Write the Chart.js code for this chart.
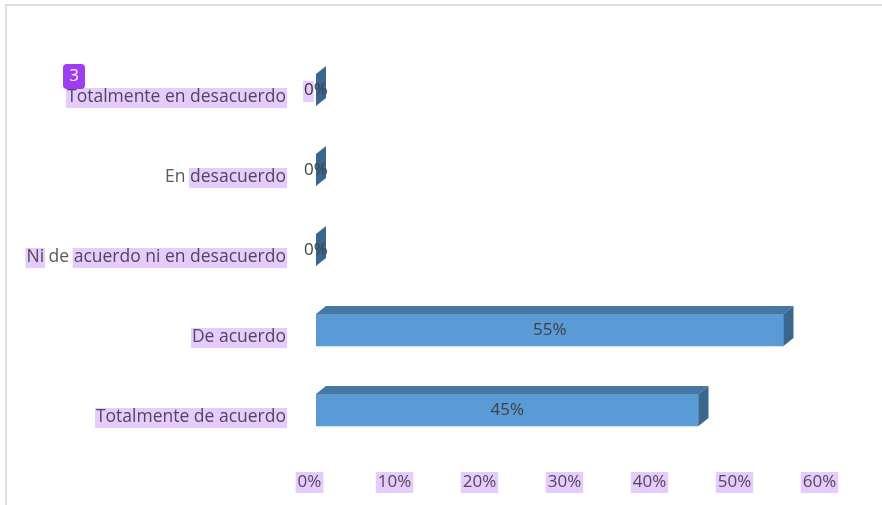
<!DOCTYPE html>
<html>
<head>
<meta charset="utf-8">
<script src="https://cdn.jsdelivr.net/npm/chart.js@4/dist/chart.umd.min.js"></script>
<style>
  html,body{margin:0;padding:0;background:#fff;width:882px;height:505px;overflow:hidden;}
  #frame{position:absolute;left:5px;top:4px;width:900px;height:520px;border-top:2px solid #dedede;border-left:2px solid #dedede;}
  #wrap{position:absolute;left:0;top:0;width:882px;height:505px;}
</style>
</head>
<body>
<div id="frame"></div>
<div id="wrap"><canvas id="c" width="882" height="505"></canvas></div>
<script>
const categories = ['Totalmente en desacuerdo', 'En desacuerdo', 'Ni de acuerdo ni en desacuerdo', 'De acuerdo', 'Totalmente de acuerdo'];
const values = [0, 0, 0, 55, 45];
const valueLabels = ['0%', '0%', '0%', '55%', '45%'];
const tickValues = [0, 10, 20, 30, 40, 50, 60];

const FONT = '"Open Sans"';
const TEXT = '#595959';
const HILITE = '#e6cbff';
// highlighted character ranges of each category label (reference shows text-selection marks)
const labelHighlights = [[[0, 24]], [[3, 13]], [[0, 2], [6, 30]], [[0, 10]], [[0, 21]]];

const bar3d = {
  id: 'bar3d',
  afterDatasetsDraw(chart) {
    const ctx = chart.ctx;
    const meta = chart.getDatasetMeta(0);
    const dx = 10, dy = 8;
    ctx.save();
    meta.data.forEach((el) => {
      const p = el.getProps(['x', 'y', 'base', 'height'], true);
      const x0 = p.base, x1 = p.x, top = p.y - p.height / 2, bot = p.y + p.height / 2;
      if (x1 - x0 > 0.5) {
        ctx.fillStyle = '#4676a4';
        ctx.beginPath();
        ctx.moveTo(x0, top); ctx.lineTo(x0 + dx, top - dy); ctx.lineTo(x1 + dx, top - dy); ctx.lineTo(x1, top);
        ctx.closePath(); ctx.fill();
      }
      ctx.fillStyle = '#3b668f';
      ctx.beginPath();
      ctx.moveTo(x1, top); ctx.lineTo(x1 + dx, top - dy); ctx.lineTo(x1 + dx, bot - dy); ctx.lineTo(x1, bot);
      ctx.closePath(); ctx.fill();
    });
    ctx.font = '17px ' + FONT;
    ctx.fillStyle = '#404040';
    ctx.textAlign = 'center';
    ctx.textBaseline = 'middle';
    meta.data.forEach((el, i) => {
      const p = el.getProps(['x', 'y', 'base', 'height'], true);
      if (values[i] > 0) {
        ctx.fillText(valueLabels[i], (p.base + p.x) / 2, p.y);
      } else {
        ctx.fillText(valueLabels[i], p.base, p.y);
      }
    });
    ctx.restore();
  },
  afterDraw(chart) {
    const ctx = chart.ctx;
    const ys = chart.scales.y, xs = chart.scales.x;
    ctx.save();
    ctx.globalCompositeOperation = 'multiply';
    ctx.fillStyle = HILITE;
    ctx.font = '17.5px ' + FONT;
    const right = ys.right - ys.options.ticks.padding;
    categories.forEach((lab, i) => {
      const cy = ys.getPixelForValue(i) + ys.options.ticks.labelOffset;
      const w = ctx.measureText(lab).width;
      const left = right - w;
      labelHighlights[i].forEach(([a, b]) => {
        const xa = left + ctx.measureText(lab.slice(0, a)).width;
        const xb = left + ctx.measureText(lab.slice(0, b)).width;
        ctx.fillRect(xa - 1, cy - 9, xb - xa + 2, 20);
      });
    });
    ctx.font = '17px ' + FONT;
    tickValues.forEach((v) => {
      const t = v + '%';
      const w = ctx.measureText(t).width;
      const cx = xs.getPixelForValue(v) + xs.options.ticks.labelOffset;
      ctx.fillRect(cx - w / 2 - 2, 472, w + 4, 21);
    });
    const p0 = chart.getDatasetMeta(0).data[0].getProps(['x', 'y', 'base'], true);
    const w0 = ctx.measureText('0%').width;
    ctx.fillRect(p0.base - w0 / 2 - 1, p0.y - 9, ctx.measureText('0').width + 1, 21);
    ctx.restore();
    ctx.save();
    ctx.fillStyle = '#9d3ef2';
    ctx.beginPath();
    ctx.roundRect(63, 64, 22, 25, 4);
    ctx.fill();
    ctx.fillStyle = '#ffffff';
    ctx.font = '17px ' + FONT;
    ctx.textAlign = 'center';
    ctx.textBaseline = 'middle';
    ctx.fillText('3', 74, 76);
    ctx.restore();
  }
};

new Chart(document.getElementById('c'), {
  type: 'bar',
  data: {
    labels: categories,
    datasets: [{
      data: values,
      backgroundColor: '#5b9bd5',
      borderWidth: 0,
      barThickness: 32
    }]
  },
  options: {
    indexAxis: 'y',
    responsive: false,
    animation: false,
    layout: { padding: { left: 0, top: 50, right: 56, bottom: 0 } },
    plugins: { legend: { display: false }, tooltip: { enabled: false } },
    scales: {
      x: {
        min: 0, max: 60,
        afterBuildTicks(scale) { scale.ticks = tickValues.map(v => ({ value: v })); },
        afterFit(scale) { scale.height = 55; },
        grid: { display: false, drawTicks: false },
        border: { display: false },
        ticks: {
          padding: 22,
          labelOffset: -6.5,
          color: TEXT,
          font: { family: FONT, size: 17 },
          callback: (v) => v + '%'
        }
      },
      y: {
        afterFit(scale) { scale.width = 316; },
        grid: { display: false, drawTicks: false },
        border: { display: false },
        ticks: {
          padding: 30,
          labelOffset: 7,
          color: TEXT,
          font: { family: FONT, size: 17.5 }
        }
      }
    }
  },
  plugins: [bar3d]
});
</script>
</body>
</html>
